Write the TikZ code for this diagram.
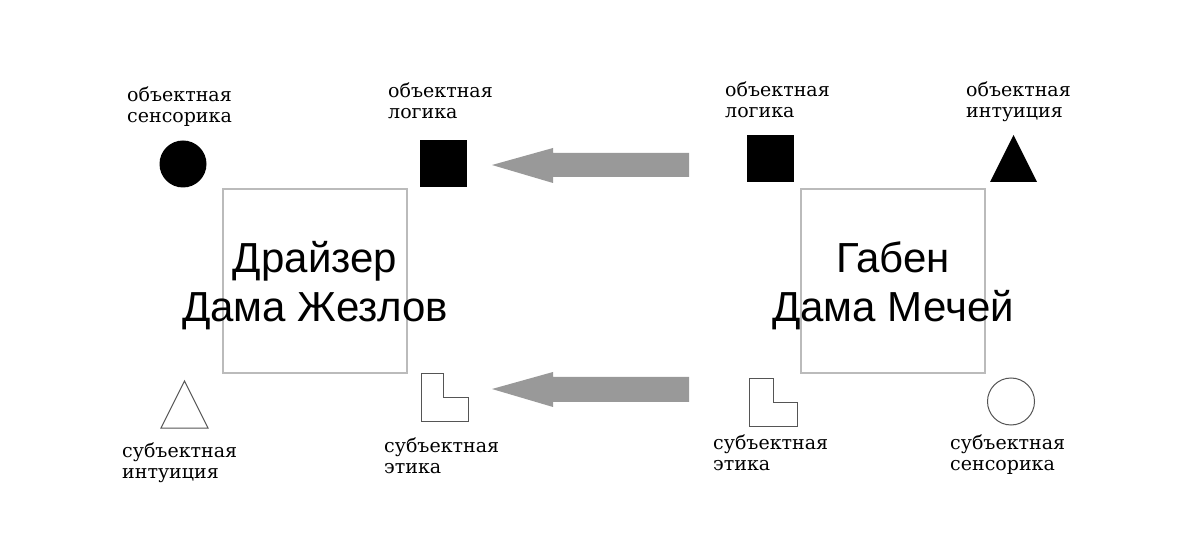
\documentclass[tikz,border=0pt]{standalone}
\usepackage{fontspec}
\newfontfamily\labelfont{DejaVu Serif}
\newfontfamily\bigfont{Liberation Sans}
\definecolor{boxgray}{HTML}{BBBBBB}
\definecolor{arrowgray}{HTML}{999999}
\definecolor{linegray}{HTML}{555555}
\tikzset{
  lbl/.style={anchor=base west, inner sep=0pt, align=left, font=\labelfont\fontsize{19bp}{21bp}\selectfont},
  bigtxt/.style={anchor=base, inner sep=0pt, align=center, font=\bigfont\fontsize{42bp}{49bp}\selectfont},
  sqbox/.style={draw=boxgray, line width=1.2bp},
  outl/.style={draw=linegray, line width=1bp},
  blockarrow/.style={fill=arrowgray},
}
\begin{document}
\begin{tikzpicture}[x=1bp,y=-1bp]
\useasboundingbox[fill=white] (0,0) rectangle (1200,557);
% big squares
\draw[sqbox] (223,189) rectangle (407,373);
\draw[sqbox] (801,189) rectangle (985,373);
\node[bigtxt] (t1) at (315,322) {Драйзер\\Дама Жезлов};
\node[bigtxt] (t2) at (893,322) {Габен\\Дама Мечей};
% left top shapes
\fill (183,164) circle (23.5);
\fill (420,140) rectangle (467,187);
% right top shapes
\fill (747,135) rectangle (794,182);
\fill (990,182) -- (1037,182) -- (1013.5,135) -- cycle;
% left bottom shapes
\draw[outl] (161,428) -- (208,428) -- (184.5,381) -- cycle;
\draw[outl] (421,374) -- (443,374) -- (443,398) -- (468,398) -- (468,421) -- (421,421) -- cycle;
% right bottom shapes
\draw[outl] (749,379) -- (773,379) -- (773,403) -- (797,403) -- (797,426) -- (749,426) -- cycle;
\draw[outl] (1011,401.5) circle (23.5);
% arrows
\fill[blockarrow] (689,153) -- (553,153) -- (553,148) -- (492,165) -- (553,183) -- (553,177) -- (689,177) -- cycle;
\fill[blockarrow] (689,377) -- (553,377) -- (553,372) -- (492,389) -- (553,407) -- (553,402) -- (689,402) -- cycle;
% labels
\node[lbl] (l1) at (127,123) {объектная\\сенсорика};
\node[lbl] (l2) at (388,119) {объектная\\логика};
\node[lbl] (l3) at (725,118) {объектная\\логика};
\node[lbl] (l4) at (966,118) {объектная\\интуиция};
\node[lbl] (l5) at (122,478) {субъектная\\интуиция};
\node[lbl] (l6) at (384,473) {субъектная\\этика};
\node[lbl] (l7) at (713,470) {субъектная\\этика};
\node[lbl] (l8) at (950,470) {субъектная\\сенсорика};
\end{tikzpicture}
\end{document}
